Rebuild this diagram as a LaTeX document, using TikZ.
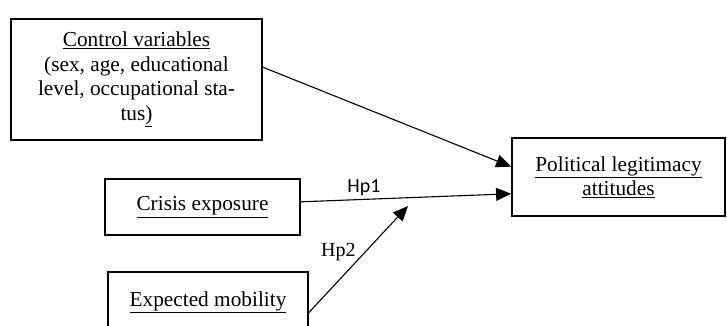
\documentclass[tikz,border=0pt]{standalone}
\usepackage{fontspec}
\setmainfont{Liberation Serif}
\newfontfamily\calib{Carlito}
\usetikzlibrary{arrows.meta,calc}
\begin{document}
\begin{tikzpicture}[x=1pt,y=-1pt,
  box/.style={draw,line width=1.8pt,inner sep=0pt,align=center,
    font=\fontsize{21.3}{24.5}\selectfont},
  conn/.style={line width=1.1pt,-{Triangle[length=15pt,width=13pt]}},
  lab/.style={font=\rmfamily\fontsize{20}{22}\selectfont},
  sanslab/.style={font=\calib\fontsize{20}{22}\selectfont}]
\useasboundingbox (0,0) rectangle (727,325);
\node[box,minimum width=251pt,minimum height=121pt] (ctrl) at (136.5,79.5)
  {\underline{Control variables}\\(sex, age, educational\\level, occupational sta-\\tus\underline{)}};
\node[box,minimum width=213pt,minimum height=78pt] (pol) at (618.5,177)
  {\underline{Political legitimacy}\\\underline{attitudes}};
\node[box,minimum width=195pt,minimum height=56pt] (cri) at (202.5,207)
  {\underline{Crisis exposure}};
\node[box,minimum width=200pt,minimum height=60pt] (exp) at (208,302)
  {\raisebox{3pt}{\underline{Expected mobility}}};
\coordinate (c1) at ($(ctrl.north east)!0.4!(ctrl.south east)$);
\coordinate (p1) at ($(pol.north west)!0.37!(pol.south west)$);
\coordinate (p2) at ($(pol.north west)!0.71!(pol.south west)$);
\coordinate (c2) at ($(cri.north east)!0.41!(cri.south east)$);
\coordinate (e1) at ($(exp.north east)!0.67!(exp.south east)$);
\coordinate (t2) at (408,206);
\draw[conn] (c1) -- (p1);
\draw[conn] (c2) -- node[sanslab,above,pos=0.3,yshift=0pt]{Hp1} (p2);
\draw[conn] (e1) -- node[lab,anchor=east,pos=0.57,xshift=-6pt]{Hp2} (t2);
\end{tikzpicture}
\end{document}
